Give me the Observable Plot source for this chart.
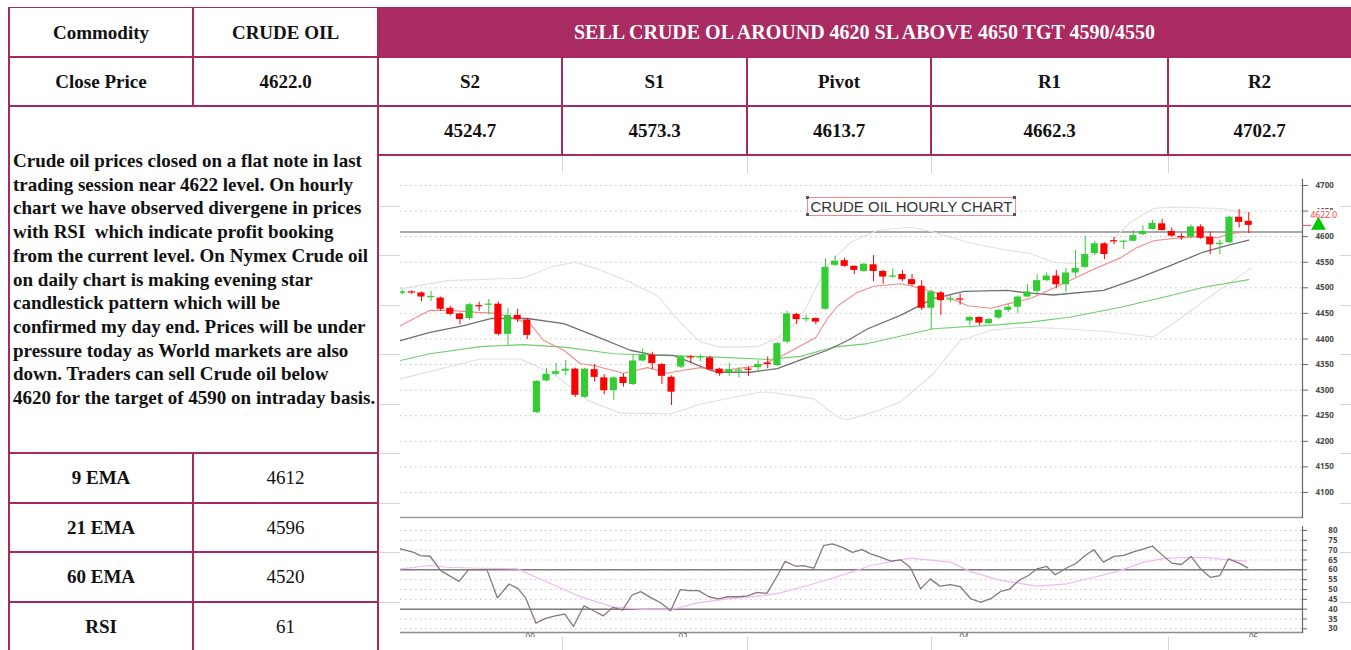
<!DOCTYPE html>
<html><head><meta charset="utf-8">
<script src="https://cdn.jsdelivr.net/npm/d3@7"></script>
<script src="https://cdn.jsdelivr.net/npm/@observablehq/plot@0.6"></script>
<style>
html,body{margin:0;padding:0;background:#fff;}
body{width:1351px;height:650px;overflow:hidden;position:relative;font-family:"Liberation Serif",serif;}
.ln{position:absolute;background:#a82960;z-index:3;}
.gl{position:absolute;background:#d4d4d4;z-index:0;}
.cell{position:absolute;display:flex;align-items:center;justify-content:center;font-size:19px;color:#111;white-space:nowrap;z-index:2;}
.b{font-weight:bold;}
#para{position:absolute;left:13px;top:149px;font-size:19px;font-weight:bold;line-height:23.7px;color:#111;white-space:pre;z-index:2;}
#chart{position:absolute;left:400px;top:173px;width:940px;height:464px;background:#fff;overflow:hidden;z-index:1;}
#chart svg{position:absolute;left:0;display:block;}
#ttl{position:absolute;left:807px;top:197px;width:207px;height:17px;border:1px solid #f08c8c;font-family:"Liberation Sans",sans-serif;font-size:15px;color:#333;display:flex;align-items:center;justify-content:center;white-space:nowrap;background:#fff;z-index:4;}
.cn{position:absolute;width:3px;height:3px;background:#555;z-index:5;}
.fill{position:absolute;background:#aa2a62;z-index:1;}
</style></head><body>
<div id="chart"></div>
<div id="root"></div>
<script>
// ---------- table data ----------
const commodityLabel = "Commodity";
const commodityName = "CRUDE OIL";
const closeLabel = "Close Price";
const closeValue = "4622.0";
const headline = "SELL CRUDE OL AROUND 4620 SL ABOVE 4650 TGT 4590/4550";
const levelNames = ["S2","S1","Pivot","R1","R2"];
const levelValues = ["4524.7","4573.3","4613.7","4662.3","4702.7"];
const indicatorNames = ["9 EMA","21 EMA","60 EMA","RSI"];
const indicatorValues = ["4612","4596","4520","61"];
const commentLines = [
"Crude oil prices closed on a flat note in last",
"trading session near 4622 level. On hourly",
"chart we have observed divergene in prices",
"with RSI  which indicate profit booking",
"from the current level. On Nymex Crude oil",
"on daily chart is making evening star",
"candlestick pattern which will be",
"confirmed my day end. Prices will be under",
"pressure today as World markets are also",
"down. Traders can sell Crude oil below",
"4620 for the target of 4590 on intraday basis."];
const chartTitle = "CRUDE OIL HOURLY CHART";

// ---------- chart data (hourly candles, index 0..88) ----------
const candleOpen  = [4489,4492,4490,4481,4480,4460,4449,4440,4465,4466,4468,4409,4446,4437,4256,4318,4331,4337,4341,4286,4340,4324,4299,4325,4311,4357,4368,4350,4325,4345,4365,4363,4363,4341,4334,4337,4341,4344,4353,4348,4394,4448,4438,4440,4458,4544,4553,4542,4532,4545,4532,4521,4526,4516,4503,4460,4490,4476,4478,4435,4442,4430,4441,4456,4462,4482,4493,4514,4523,4506,4529,4540,4567,4586,4592,4589,4591,4604,4614,4625,4610,4600,4599,4619,4599,4585,4588,4638,4630];
const candleHigh  = [4496,4494,4492,4493,4482,4464,4450,4469,4472,4477,4472,4460,4458,4440,4319,4342,4352,4358,4343,4343,4350,4330,4326,4332,4368,4381,4374,4352,4328,4367,4368,4369,4366,4343,4353,4344,4345,4358,4365,4393,4454,4450,4446,4441,4557,4562,4558,4543,4548,4563,4534,4537,4534,4526,4514,4495,4493,4485,4488,4444,4443,4440,4458,4469,4484,4506,4526,4529,4534,4538,4573,4601,4591,4588,4599,4593,4612,4621,4632,4634,4617,4606,4623,4623,4609,4593,4640,4653,4647];
const candleLow   = [4486,4487,4473,4473,4454,4445,4428,4437,4454,4447,4406,4387,4432,4399,4254,4316,4328,4329,4286,4284,4316,4291,4280,4306,4309,4355,4340,4311,4270,4342,4352,4356,4338,4327,4327,4324,4327,4335,4342,4346,4391,4428,4433,4428,4456,4541,4540,4526,4530,4512,4507,4518,4512,4503,4456,4417,4446,4471,4466,4426,4426,4428,4438,4452,4449,4480,4488,4512,4498,4490,4521,4538,4563,4555,4584,4575,4590,4602,4613,4611,4599,4593,4596,4595,4565,4565,4586,4617,4606];
const candleClose = [4492,4490,4482,4483,4458,4448,4438,4467,4463,4468,4409,4446,4438,4407,4317,4331,4336,4341,4290,4341,4325,4299,4324,4313,4357,4368,4352,4327,4296,4365,4363,4365,4340,4332,4340,4339,4339,4350,4350,4391,4449,4438,4440,4433,4540,4552,4542,4534,4546,4532,4521,4523,4516,4506,4460,4492,4475,4478,4476,4442,4431,4438,4456,4462,4482,4492,4514,4523,4506,4529,4538,4565,4586,4565,4590,4591,4602,4610,4626,4612,4601,4598,4619,4597,4584,4587,4638,4628,4622];

// indicator readings [candle index, value]
const ema9 = [[-0.2,4426],[2.9,4456],[5,4456],[7.8,4452],[9.9,4450],[11.3,4442],[13.3,4430],[14.7,4397],[16.8,4378],[18.5,4352],[19.9,4348],[22,4338],[23,4333],[25.5,4344],[27.6,4333],[28.9,4338],[31,4344],[33.1,4338],[37.2,4348],[39.6,4368],[43,4403],[44.2,4440],[45.3,4465],[47.3,4491],[49,4503],[51.8,4508],[53.9,4499],[56.3,4485],[58.8,4465],[61.2,4460],[63.5,4471],[65.3,4479],[67.7,4499],[71.6,4534],[74.7,4559],[76.4,4579],[78.1,4592],[79.9,4596],[82.7,4600],[84.8,4598],[86.1,4606],[88.2,4610]];
const ema21 = [[-0.2,4397],[2.9,4413],[6.4,4426],[9.2,4440],[13,4440],[16.8,4430],[20.3,4404],[23.7,4378],[26.1,4369],[28.2,4368],[32,4339],[32.8,4335],[36.2,4335],[39,4342],[41.7,4361],[44.2,4378],[46.3,4397],[48.4,4420],[51.8,4446],[55.2,4479],[58.4,4493],[62.9,4495],[65,4490],[67.7,4486],[72.9,4495],[76.4,4518],[79.9,4544],[83.3,4570],[85.8,4583],[88,4593]];
const ema60 = [[-0.2,4358],[2.9,4371],[8.1,4385],[12.6,4389],[16.8,4384],[22,4371],[27.2,4368],[32,4365],[38,4360],[41.4,4366],[44.8,4384],[48.4,4391],[55.2,4420],[62.2,4428],[65.3,4433],[69.5,4443],[74.7,4462],[79.9,4485],[83.3,4501],[88,4516]];
const bbUpper = [[-0.2,4498],[4.7,4514],[12.6,4519],[15.7,4542],[18,4550],[20.3,4537],[23.7,4511],[26.5,4485],[28.9,4433],[31,4394],[33.1,4384],[36.9,4385],[39,4401],[41.4,4440],[44.2,4544],[46.6,4589],[49.4,4612],[52.9,4619],[55.2,4609],[58.8,4589],[62.2,4576],[65.3,4567],[67.7,4550],[70.2,4547],[72.9,4576],[75.7,4628],[78.1,4655],[79.9,4658],[85.1,4655],[88.2,4645]];
const bbLower = [[-0.2,4322],[8.1,4361],[12.3,4361],[15.7,4332],[19.3,4280],[22.7,4255],[27.9,4254],[29.7,4264],[31,4273],[37.2,4296],[38.3,4296],[42.8,4283],[45.3,4247],[46.3,4242],[49,4257],[51.8,4277],[55.2,4332],[58,4397],[61.2,4417],[64.3,4423],[67.7,4421],[72.9,4415],[78.1,4404],[80.9,4440],[83.7,4479],[88.2,4538]];
const rsiLine = [[-0.2,70.7],[1.2,68.9],[1.9,67.2],[2.9,66.9],[4,59.6],[5.9,54.1],[6.9,60.1],[8.8,60.1],[9.9,45.7],[11.1,52.8],[12,50.6],[12.8,46],[13.9,32.9],[14.9,35.3],[15.9,36.6],[16.9,37.5],[17.8,31.2],[18.9,41.7],[19.9,39.2],[20.9,36.6],[21.9,40.9],[22.9,39.5],[23.9,47.2],[24.8,48.9],[25.8,46],[26.9,43.1],[27.9,39.2],[28.9,49.9],[29.8,49.4],[30.8,49.4],[31.9,46.3],[32.8,45.2],[33.9,46.3],[35,46.3],[35.9,46.8],[36.9,48.5],[37.9,48],[39,57],[39.8,64.3],[40.9,61.8],[41.7,62.1],[42.8,60.8],[43.8,72.3],[44.7,73.2],[45.7,71.5],[46.8,68.9],[47.8,70.3],[48.7,68.1],[49.7,66.4],[50.8,64.4],[51.8,65.1],[52.8,61.3],[53.9,50.3],[54.9,55.4],[55.9,51.7],[57,52.5],[58,51.5],[59.1,45.3],[60.1,43.5],[61.2,45.3],[62.2,49],[63.1,50],[64.1,54.6],[65.1,57.1],[66,60.5],[67,61.7],[67.9,57.5],[69,60.8],[70,63.1],[71,67.3],[71.9,70.2],[72.9,63.9],[74,66.8],[75,67.3],[76.1,69.3],[77.1,70.7],[78,72],[79,67.6],[80,63.4],[81,62.7],[82,66.8],[83,60.5],[84,56.2],[85,57.1],[85.9,65.6],[87,63.4],[87.9,61]];
const rsiSignal = [[-0.2,60.5],[2.9,62.2],[4.7,61.3],[8.1,60.8],[12,60.5],[15.1,53.7],[18.5,46.4],[22,41],[25.5,39.8],[27.9,39.7],[30.7,43.2],[34.1,45.3],[37.6,46.9],[39.3,48.3],[42.8,52.9],[46.9,59.1],[48.7,62.2],[52.8,65.9],[57,63.9],[59.1,59.1],[62.2,54.6],[66,51.7],[69.1,52.9],[71.9,56.2],[74.3,59.1],[77.1,63.9],[79.5,65.9],[82.3,66.4],[84,66.1],[85.8,65.1],[87.8,64.4]];

const priceTicks = [4100,4150,4200,4250,4300,4350,4400,4450,4500,4550,4600,4650,4700];
const refLevel = [4609];
const lastClose = [4622];
const rsiTicks = [30,35,40,45,50,55,60,65,70,75,80];
const rsiLevels = [40,60];
const xTickIdx = [13.3,29.2,58.4,88.5];
const xTickLabels = ["09","02","04","06"];

// ---------- table layout ----------
const root = document.getElementById("root");
function el(cls, l, t, w, h, txt, extra){
  const d = document.createElement("div");
  d.className = cls;
  Object.assign(d.style, {left:l+"px", top:t+"px", width:w+"px", height:h+"px"}, extra||{});
  if (txt !== undefined) d.textContent = txt;
  root.appendChild(d); return d;
}
// light grey grid of the underlying table (mostly hidden by the chart)
[562,747,931,1168].forEach(x => el("gl", x-0.5, 155, 1, 495));
[206,255,305,354,404,453,503,552,602].forEach(y => el("gl", 378, y-0.5, 973, 1));

// header fill
el("fill", 378, 8, 973, 49);
// cells
el("cell b", 9, 8, 184, 49, commodityLabel);
el("cell b", 193, 8, 185, 49, commodityName);
el("cell b", 378, 8, 973, 49, headline, {color:"#fff", fontSize:"20px"});
el("cell b", 9, 57, 184, 49, closeLabel);
el("cell b", 193, 57, 185, 49, closeValue);
const colX = [378,562,747,931,1168,1351];
levelNames.forEach((n,i) => {
  el("cell b", colX[i], 57, colX[i+1]-colX[i], 49, n);
  el("cell b", colX[i], 106, colX[i+1]-colX[i], 49, levelValues[i]);
});
const rowY = [453,503,552,602,651];
indicatorNames.forEach((n,i) => {
  el("cell b", 9, rowY[i], 184, rowY[i+1]-rowY[i], n);
  el("cell", 193, rowY[i], 185, rowY[i+1]-rowY[i], indicatorValues[i]);
});
const p = document.createElement("div"); p.id = "para";
p.textContent = commentLines.join("\n"); root.appendChild(p);

// magenta borders
el("ln", 9, 7, 1342, 1.3);
[57,106].forEach(y => el("ln", 9, y-1, 1342, 2));
el("ln", 378, 154, 973, 2);
[453,503,552,602].forEach(y => el("ln", 9, y-1, 369, 2));
el("ln", 8, 7, 2, 643);
el("ln", 377, 7, 2, 643);
el("ln", 192, 7, 2, 100);
el("ln", 192, 452, 2, 198);
[562,747,931,1168].forEach(x => el("ln", x-1, 56, 2, 100));

// chart title box
const tt = document.createElement("div"); tt.id = "ttl"; tt.textContent = chartTitle; root.appendChild(tt);
[[806,196],[1013,196],[806,213],[1013,213]].forEach(([l,t]) => el("cn", l, t, 3, 3));

// ---------- chart ----------
const GREEN = "#33cc33", RED = "#ff0000";
const candles = candleOpen.map((o,i) => {
  const c = candleClose[i];
  const lo = Math.min(o,c), hi = Math.max(o,c);
  const pad = hi - lo < 2.4 ? (2.4 - (hi - lo)) / 2 : 0;
  return {i, o, c, h: candleHigh[i], l: candleLow[i], b1: lo - pad, b2: hi + pad, up: c >= o};
});
const ups = candles.filter(d => d.up), downs = candles.filter(d => !d.up);
const xDomain = [-0.177, 93.59];
const dotted = {stroke: "#c4c4c4", strokeOpacity: 1, strokeDasharray: "1.5,3.5", strokeWidth: 1};
const fmt = d => String(d);

const mainPlot = Plot.plot({
  width: 940, height: 348,
  marginTop: 6, marginBottom: 4, marginLeft: 0, marginRight: 38,
  x: {domain: xDomain, axis: null},
  y: {domain: [4051.1, 4711.7], axis: null},
  style: {background: "transparent", overflow: "visible"},
  marks: [
    Plot.gridY(priceTicks, dotted),
    Plot.ruleY(refLevel, {stroke: "#8c8c8c", strokeWidth: 1.5}),
    Plot.line(bbUpper, {stroke: "#e0e0e0", strokeWidth: 1.1}),
    Plot.line(bbLower, {stroke: "#e0e0e0", strokeWidth: 1.1}),
    Plot.line(ema60, {stroke: "#6fcf6f", strokeWidth: 1.1}),
    Plot.line(ema21, {stroke: "#707070", strokeWidth: 1.3}),
    Plot.line(ema9, {stroke: "#f38a8a", strokeWidth: 1.1}),
    Plot.ruleX(ups, {x: "i", y1: "l", y2: "h", stroke: GREEN, strokeWidth: 1}),
    Plot.ruleX(downs, {x: "i", y1: "l", y2: "h", stroke: RED, strokeWidth: 1}),
    Plot.rect(ups, {x1: d => d.i - 0.37, x2: d => d.i + 0.37, y1: "b1", y2: "b2", fill: GREEN}),
    Plot.rect(downs, {x1: d => d.i - 0.37, x2: d => d.i + 0.37, y1: "b1", y2: "b2", fill: RED}),
    Plot.frame({anchor: "bottom", stroke: "#9a9a9a", strokeWidth: 1.5}),
    Plot.frame({anchor: "right", stroke: "#666", strokeWidth: 1.2}),
    Plot.axisY(priceTicks, {anchor: "right", tickSize: 5, tickPadding: 8, textAnchor: "start", fontSize: 8, fontWeight: "bold", fill: "#4a4a4a", stroke: "#666", tickFormat: fmt}),
    Plot.axisY(lastClose, {anchor: "right", tickSize: 8, stroke: "#ff4a4a", tickFormat: () => ""}),
    Plot.text(lastClose, {y: d => d, frameAnchor: "right", dx: 8, dy: -10, text: d => d.toFixed(1), textAnchor: "start", fontSize: 8.5, fill: "#ff3b3b", stroke: "white", strokeWidth: 4, paintOrder: "stroke"}),
    Plot.dot(lastClose, {y: d => d, frameAnchor: "right", dx: 16, symbol: "triangle", r: 5.5, fill: "#00c800", stroke: "none"})
  ]
});

const rsiPlot = Plot.plot({
  width: 940, height: 116,
  marginTop: 5, marginBottom: 5, marginLeft: 0, marginRight: 38,
  x: {domain: xDomain, axis: null},
  y: {domain: [28.12, 82.03], axis: null},
  style: {background: "transparent", overflow: "visible"},
  marks: [
    Plot.gridY(rsiTicks, dotted),
    Plot.ruleY(rsiLevels, {stroke: "#7c7c7c", strokeWidth: 1.5}),
    Plot.frame({anchor: "bottom", stroke: "#8c8c8c", strokeWidth: 1.5}),
    Plot.frame({anchor: "right", stroke: "#666", strokeWidth: 1.2}),
    Plot.line(rsiSignal, {stroke: "#f3b8f3", strokeWidth: 1.2}),
    Plot.line(rsiLine, {stroke: "#8a7676", strokeWidth: 1.3}),
    Plot.axisY(rsiTicks, {anchor: "right", tickSize: 4, tickPadding: 31, textAnchor: "end", fontSize: 8, fontWeight: "bold", fill: "#4a4a4a", stroke: "#666", tickFormat: fmt}),
    Plot.axisX(xTickIdx, {anchor: "bottom", tickSize: 0, tickPadding: 2, fontSize: 8, fill: "#555", tickFormat: d => xTickLabels[xTickIdx.indexOf(d)]})
  ]
});
const chart = document.getElementById("chart");
mainPlot.style.top = "0px";
rsiPlot.style.top = "348px";
chart.appendChild(mainPlot);
chart.appendChild(rsiPlot);
</script>
</body></html>
